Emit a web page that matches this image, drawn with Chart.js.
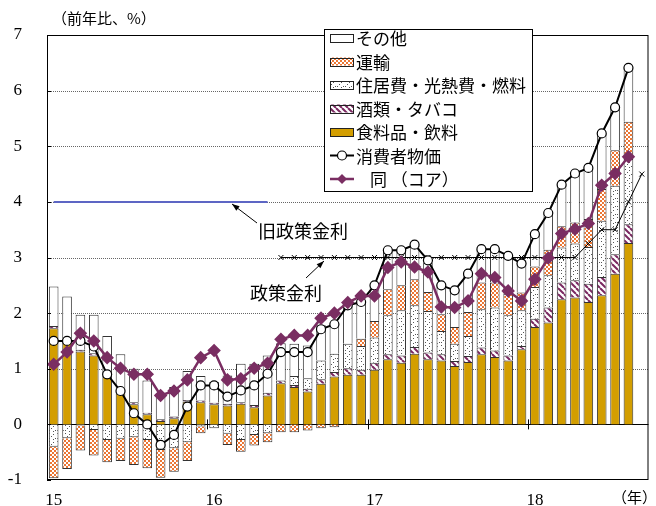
<!DOCTYPE html>
<html>
<head>
<meta charset="utf-8">
<script src="https://cdn.jsdelivr.net/npm/chart.js@4.4.0/dist/chart.umd.min.js"></script>
<style>
  body { margin: 0; background: #fff; }
  canvas { display: block; }
</style>
</head>
<body>
<canvas id="grafico" width="656" height="506"></canvas>
<script>
// Months Jan 2015 .. Sep 2018 (last month only has the policy rate)
const categories = [];
for (let a = 2015; a <= 2018; a++) {
  for (let m = 1; m <= 12; m++) {
    if (categories.length < 45) categories.push(a + '-' + m);
  }
}
const yearTicks = ['15', '16', '17', '18'];

// Contributions (% pt)
const food = [1.73,1.50,1.31,1.24,0.85,0.56,0.36,0.18,0.06,0.11,0.41,0.40,
  0.36,0.34,0.37,0.31,0.52,0.74,0.67,0.59,0.73,0.86,0.89,0.89,
  0.98,1.17,1.11,1.27,1.17,1.15,1.05,1.12,1.26,1.21,1.15,1.35,
  1.75,1.83,2.25,2.28,2.20,2.32,2.71,3.26];
const alcohol = [0.04,0.04,0.03,0.04,0.03,0.03,0.04,0.03,0.03,0.03,0.03,0.03,
  0.03,0.03,0.03,0.04,0.05,0.05,0.04,0.05,0.08,0.08,0.12,0.09,
  0.13,0.09,0.13,0.12,0.12,0.11,0.09,0.11,0.12,0.12,0.09,0.06,
  0.15,0.27,0.30,0.31,0.33,0.33,0.35,0.34];
const housing = [-0.40,-0.25,-0.02,-0.10,-0.28,-0.26,-0.23,-0.28,-0.46,-0.43,-0.32,-0.04,
  -0.07,-0.17,-0.28,-0.19,-0.16,null,0.16,0.19,0.34,0.33,0.44,0.43,
  0.45,0.70,0.81,0.75,0.75,0.42,0.31,0.36,0.69,0.77,0.72,0.64,
  0.57,0.58,0.63,0.66,0.66,1.01,1.23,1.17];
const transport = [-0.57,-0.55,-0.45,-0.46,-0.40,-0.40,-0.50,-0.51,-0.50,-0.42,-0.34,-0.12,
  null,-0.20,-0.21,-0.19,-0.16,-0.14,-0.14,-0.11,-0.07,-0.05,null,0.13,
  0.30,0.47,0.45,0.47,0.34,0.30,0.30,0.43,0.48,0.45,0.39,0.32,
  0.37,0.46,0.38,0.38,0.50,0.57,0.64,0.67];
const other = [0.71,0.76,0.63,0.69,0.71,0.67,0.60,0.58,0.47,0.53,0.52,0.44,
  0.37,0.51,0.69,0.74,0.67,0.67,0.58,0.59,0.63,0.56,0.68,0.68,
  0.63,0.70,0.65,0.60,0.53,0.54,0.68,0.71,0.60,0.62,0.70,0.58,
  0.58,0.65,0.75,0.88,0.90,1.00,0.77,0.97];

// Lines (% y/y)
const cpi = [1.50,1.50,1.50,1.40,0.90,0.60,0.20,0.00,-0.37,-0.19,0.32,0.70,
  0.70,0.50,0.61,0.70,0.91,1.30,1.30,1.30,1.71,1.80,2.14,2.20,
  2.50,3.13,3.13,3.23,2.95,2.50,2.41,2.71,3.15,3.15,3.03,2.89,
  3.42,3.80,4.31,4.51,4.61,5.23,5.70,6.41];
const core = [1.08,1.30,1.64,1.50,1.20,1.01,0.90,0.90,0.52,0.60,0.80,1.20,
  1.33,0.80,0.82,1.01,1.10,1.53,1.60,1.60,1.91,2.00,2.19,2.31,
  2.31,2.82,2.92,2.83,2.74,2.11,2.10,2.22,2.71,2.64,2.40,2.22,
  2.61,2.99,3.43,3.51,3.61,4.30,4.51,4.81];
const oldRate = [4,4,4,4,4,4,4,4,4,4,4,4, 4,4,4,4,4];
const policyRate = [null,null,null,null,null,null,null,null,null,null,null,null,
  null,null,null,null,null,3,3,3,3,3,3,3,
  3,3,3,3,3,3,3,3,3,3,3,3,
  3,3,3,3,3.25,3.5,3.5,4,4.5];

const tela = document.getElementById('grafico');
const ctx = tela.getContext('2d');

// small tiles for the hatched fills
function padrao(w, h, desenha) {
  const c = document.createElement('canvas');
  c.width = w; c.height = h;
  desenha(c.getContext('2d'));
  return ctx.createPattern(c, 'repeat');
}
const xadrez = padrao(4, 4, g => {
  g.fillStyle = '#fff'; g.fillRect(0, 0, 4, 4);
  g.fillStyle = '#EC7633'; g.fillRect(0, 0, 2, 2); g.fillRect(2, 2, 2, 2);
});
const pontos = padrao(8, 8, g => {
  g.fillStyle = '#fff'; g.fillRect(0, 0, 8, 8);
  g.fillStyle = '#555';
  [[1,1],[5,2],[3,4],[7,6],[1,6],[5,7]].forEach(p => g.fillRect(p[0], p[1], 1, 1));
});
const listras = padrao(6, 6, g => {
  g.fillStyle = '#fff'; g.fillRect(0, 0, 6, 6);
  g.strokeStyle = '#7A2860'; g.lineWidth = 2;
  for (const o of [-6, 0, 6]) {
    g.beginPath(); g.moveTo(o, 0); g.lineTo(o + 6, 6); g.stroke();
  }
});
const ouro = '#D39E00';
const roxo = '#7A2E62';

function barra(label, data, cor) {
  return {
    type: 'bar', label, data, backgroundColor: cor,
    borderColor: '#333', borderWidth: 1, stack: 'barras', order: 10,
    barPercentage: 0.72, categoryPercentage: 1
  };
}

function seta(c, x1, y1, x2, y2) {
  const ang = Math.atan2(y2 - y1, x2 - x1);
  c.beginPath(); c.moveTo(x1, y1); c.lineTo(x2, y2); c.stroke();
  c.beginPath();
  c.moveTo(x2, y2);
  c.lineTo(x2 - 8 * Math.cos(ang - 0.35), y2 - 8 * Math.sin(ang - 0.35));
  c.lineTo(x2 - 8 * Math.cos(ang + 0.35), y2 - 8 * Math.sin(ang + 0.35));
  c.closePath(); c.fill();
}

const legenda = [
  { tipo: 'caixa', cor: '#fff', texto: 'その他' },
  { tipo: 'caixa', cor: xadrez, texto: '運輸' },
  { tipo: 'caixa', cor: pontos, texto: '住居費・光熱費・燃料' },
  { tipo: 'caixa', cor: listras, texto: '酒類・タバコ' },
  { tipo: 'caixa', cor: ouro, texto: '食料品・飲料' },
  { tipo: 'cpi', texto: '消費者物価' },
  { tipo: 'core', texto: '同 （コア）' }
];

const extras = {
  id: 'extras',
  beforeDatasetsDraw(chart) {
    const c = chart.ctx, a = chart.chartArea, y = chart.scales.y;
    c.save();
    c.strokeStyle = '#666'; c.lineWidth = 1; c.setLineDash([1, 1]);
    for (let v = 1; v <= 6; v++) {
      const py = Math.round(y.getPixelForValue(v)) + 0.5;
      c.beginPath(); c.moveTo(a.left, py); c.lineTo(a.right, py); c.stroke();
    }
    c.setLineDash([]);
    c.strokeStyle = '#000';
    const z = Math.round(y.getPixelForValue(0)) + 0.5;
    c.beginPath(); c.moveTo(a.left, z); c.lineTo(a.right, z); c.stroke();
    c.restore();
  },
  afterDatasetsDraw(chart) {
    const c = chart.ctx, a = chart.chartArea, x = chart.scales.x, y = chart.scales.y;
    c.save();
    c.strokeStyle = '#000'; c.lineWidth = 1;
    c.strokeRect(a.left + 0.5, a.top + 0.5, a.right - a.left - 1, a.bottom - a.top - 1);
    // year ticks on the zero line
    const z = y.getPixelForValue(0);
    for (let i = 12; i < categories.length; i += 12) {
      const px = Math.round((x.getPixelForValue(i - 1) + x.getPixelForValue(i)) / 2) + 0.5;
      c.beginPath(); c.moveTo(px, z - 5); c.lineTo(px, z + 5); c.stroke();
    }
    // small inner ticks on the y axis
    for (let v = -1; v <= 7; v++) {
      const py = Math.round(y.getPixelForValue(v)) + 0.5;
      c.beginPath(); c.moveTo(a.left, py); c.lineTo(a.left + 4, py); c.stroke();
    }
    c.restore();
  },
  afterDraw(chart) {
    const c = chart.ctx;
    c.save();
    // legend box
    c.fillStyle = '#fff'; c.strokeStyle = '#000'; c.lineWidth = 1;
    c.fillRect(324.5, 29.5, 208, 162); c.strokeRect(324.5, 29.5, 208, 162);
    c.font = '17px "Noto Sans CJK JP"';
    c.textBaseline = 'middle';
    legenda.forEach((it, i) => {
      const cy = 38 + i * 23.5;
      if (it.tipo === 'caixa') {
        c.fillStyle = it.cor;
        c.fillRect(330, cy - 4, 23, 8);
        c.strokeStyle = '#222';
        c.strokeRect(330.5, Math.round(cy - 4) + 0.5, 23, 8);
      } else if (it.tipo === 'cpi') {
        c.strokeStyle = '#000'; c.lineWidth = 2;
        c.beginPath(); c.moveTo(330, cy); c.lineTo(354, cy); c.stroke();
        c.fillStyle = '#fff'; c.lineWidth = 1.2;
        c.beginPath(); c.arc(342, cy, 4.5, 0, Math.PI * 2); c.fill(); c.stroke();
      } else {
        c.strokeStyle = roxo; c.lineWidth = 2.5;
        c.beginPath(); c.moveTo(330, cy); c.lineTo(354, cy); c.stroke();
        c.fillStyle = roxo;
        c.beginPath(); c.moveTo(342, cy - 5); c.lineTo(347, cy); c.lineTo(342, cy + 5); c.lineTo(337, cy); c.closePath(); c.fill();
      }
      c.lineWidth = 1;
      c.fillStyle = '#000';
      c.fillText(it.texto, it.tipo === 'core' ? 370 : 356, cy + 1);
    });
    // unit labels
    c.font = '15px "Noto Sans CJK JP"';
    c.fillText('（前年比、%）', 52, 18);
    c.fillText('（年）', 612, 497);
    // annotations
    c.font = '18px "Noto Sans CJK JP"';
    c.fillText('旧政策金利', 258, 231);
    c.fillText('政策金利', 250, 293);
    c.strokeStyle = '#000'; c.fillStyle = '#000'; c.lineWidth = 1;
    seta(c, 257, 223, 232, 204);
    seta(c, 306, 278, 324, 261);
    c.restore();
  }
};

new Chart(tela, {
  data: {
    labels: categories,
    datasets: [
      barra('食料品・飲料', food, ouro),
      barra('酒類・タバコ', alcohol, listras),
      barra('住居費・光熱費・燃料', housing, pontos),
      barra('運輸', transport, xadrez),
      barra('その他', other, '#fff'),
      { type: 'line', label: '同（コア）', data: core, borderColor: roxo, borderWidth: 2.5,
        pointStyle: 'rectRot', pointRadius: 5, pointBackgroundColor: roxo, pointBorderColor: roxo,
        stack: 'core', order: 1 },
      { type: 'line', label: '消費者物価', data: cpi, borderColor: '#000', borderWidth: 2,
        pointRadius: 4.5, pointBackgroundColor: '#fff', pointBorderColor: '#000', pointBorderWidth: 1.2,
        stack: 'cpi', order: 2 },
      { type: 'line', label: '政策金利', data: policyRate, borderColor: '#000', borderWidth: 1,
        pointStyle: 'crossRot', pointRadius: 3.5, pointBorderColor: '#000', pointBorderWidth: 1,
        stack: 'rate', order: 3 },
      { type: 'line', label: '旧政策金利', data: oldRate, borderColor: '#5D66C4', borderWidth: 2,
        pointRadius: 0, stack: 'old', order: 4 }
    ]
  },
  options: {
    responsive: false,
    devicePixelRatio: 1,
    animation: false,
    layout: { padding: { top: 35, right: 3, left: 0, bottom: 0 } },
    plugins: { legend: { display: false }, tooltip: { enabled: false } },
    scales: {
      x: {
        stacked: true, offset: true,
        grid: { display: false, drawTicks: false }, border: { display: false },
        ticks: {
          autoSkip: false, maxRotation: 0, padding: 10, color: '#000',
          font: { family: 'Liberation Serif', size: 17 },
          callback: (v, i) => (i % 12 === 0 ? yearTicks[i / 12] : '')
        },
        afterFit: s => { s.height = 26; s.paddingLeft = 0; s.paddingRight = 0; }
      },
      y: {
        stacked: true, min: -1, max: 7,
        grid: { display: false, drawTicks: false }, border: { display: false },
        ticks: { stepSize: 1, padding: 25, color: '#000', font: { family: 'Liberation Serif', size: 17 } },
        afterFit: s => { s.width = 47; s.paddingTop = 0; s.paddingBottom = 0; }
      }
    }
  },
  plugins: [extras]
});
</script>
</body>
</html>
